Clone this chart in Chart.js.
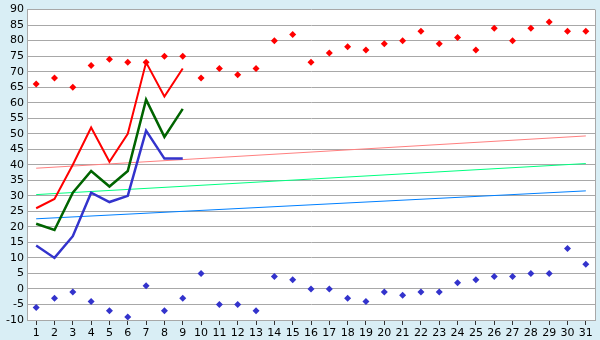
<!DOCTYPE html>
<html>
<head>
<meta charset="utf-8">
<script src="https://cdn.jsdelivr.net/npm/chart.js@4/dist/chart.umd.min.js"></script>
<style>
  html, body { margin: 0; padding: 0; background: #d9eef5; }
  #wrap { width: 600px; height: 340px; }
</style>
</head>
<body>
<div id="wrap"><canvas id="grafico" width="600" height="340"></canvas></div>
<script>
// dias do mês
const dias = ['1','2','3','4','5','6','7','8','9','10','11','12','13','14','15','16','17','18','19','20','21','22','23','24','25','26','27','28','29','30','31'];

// pontos soltos (máximo / mínimo)
const pontosVermelhos = [66, 68, 65, 72, 74, 73, 73, 75, 75, 68, 71, 69, 71, 80, 82, 73, 76, 78, 77, 79, 80, 83, 79, 81, 77, 84, 80, 84, 86, 83, 83];
const pontosAzuis = [-6, -3, -1, -4, -7, -9, 1, -7, -3, 5, -5, -5, -7, 4, 3, 0, 0, -3, -4, -1, -2, -1, -1, 2, 3, 4, 4, 5, 5, 13, 8];

// linhas dos primeiros 9 dias
const linhaVermelha = [26, 29, 40, 52, 41, 50, 73, 62, 71];
const linhaVerde = [21, 19, 31, 38, 33, 38, 61, 49, 58];
const linhaAzul = [14, 10, 17, 31, 28, 30, 51, 42, 42];

// tendências: valor no dia 1 e no dia 31
const tendVermelha = [38.9, 49.3];
const tendVerde = [30.4, 40.4];
const tendAzul = [22.6, 31.6];

function tendencia(ext) {
  const arr = new Array(dias.length).fill(null);
  arr[0] = ext[0];
  arr[dias.length - 1] = ext[1];
  return arr;
}

// fundo branco da área do gráfico + moldura
const moldura = {
  id: 'moldura',
  beforeDraw(chart) {
    const c = chart.ctx, a = chart.chartArea;
    c.save();
    c.fillStyle = '#d9eef5';
    c.fillRect(0, 0, chart.width, chart.height);
    c.fillStyle = '#ffffff';
    c.fillRect(a.left, a.top, a.right - a.left, a.bottom - a.top);
    c.restore();
  },
  afterDatasetsDraw(chart) {
    const c = chart.ctx, a = chart.chartArea;
    c.save();
    c.strokeStyle = '#a8a8a8';
    c.lineWidth = 1;
    c.beginPath();
    c.moveTo(a.right + 0.5, a.top);
    c.lineTo(a.right + 0.5, a.bottom);
    c.stroke();
    c.restore();
  }
};

const ctx = document.getElementById('grafico').getContext('2d');
new Chart(ctx, {
  type: 'line',
  data: {
    labels: dias,
    datasets: [
      { data: pontosVermelhos, showLine: false, pointStyle: 'rectRot', pointRadius: 3.5, pointBackgroundColor: '#ff0000', pointBorderColor: '#ff0000', borderWidth: 0, order: 1 },
      { data: pontosAzuis, showLine: false, pointStyle: 'rectRot', pointRadius: 3.5, pointBackgroundColor: '#3333cc', pointBorderColor: '#3333cc', borderWidth: 0, order: 1 },
      { data: linhaVermelha, borderColor: '#ff0000', borderWidth: 2, pointRadius: 0, order: 2 },
      { data: linhaVerde, borderColor: '#006400', borderWidth: 2.5, pointRadius: 0, order: 2 },
      { data: linhaAzul, borderColor: '#3333cc', borderWidth: 2.5, pointRadius: 0, order: 2 },
      { data: tendencia(tendVermelha), borderColor: '#ff8080', borderWidth: 1, pointRadius: 0, spanGaps: true, order: 3 },
      { data: tendencia(tendVerde), borderColor: '#00ff80', borderWidth: 1, pointRadius: 0, spanGaps: true, order: 3 },
      { data: tendencia(tendAzul), borderColor: '#0080ff', borderWidth: 1, pointRadius: 0, spanGaps: true, order: 3 }
    ]
  },
  options: {
    responsive: false,
    animation: false,
    layout: { padding: { top: 5, right: 5, left: 0, bottom: 0 } },
    plugins: { legend: { display: false }, tooltip: { enabled: false } },
    scales: {
      x: {
        offset: true,
        grid: { drawOnChartArea: false, drawTicks: true, tickLength: 5, tickColor: '#333333' },
        border: { color: '#a8a8a8' },
        ticks: { color: '#000', padding: 2, autoSkip: false, maxRotation: 0, font: { family: 'DejaVu Sans', size: 11 } },
        afterFit(s) { s.height = 20; }
      },
      y: {
        min: -10,
        max: 90,
        grid: { color: '#a8a8a8', drawTicks: false },
        border: { color: '#a8a8a8' },
        ticks: { stepSize: 5, maxTicksLimit: 30, autoSkip: false, color: '#000', padding: 3, font: { family: 'DejaVu Sans', size: 11 } },
        afterFit(s) { s.width = 27; }
      }
    }
  },
  plugins: [moldura]
});
</script>
</body>
</html>
